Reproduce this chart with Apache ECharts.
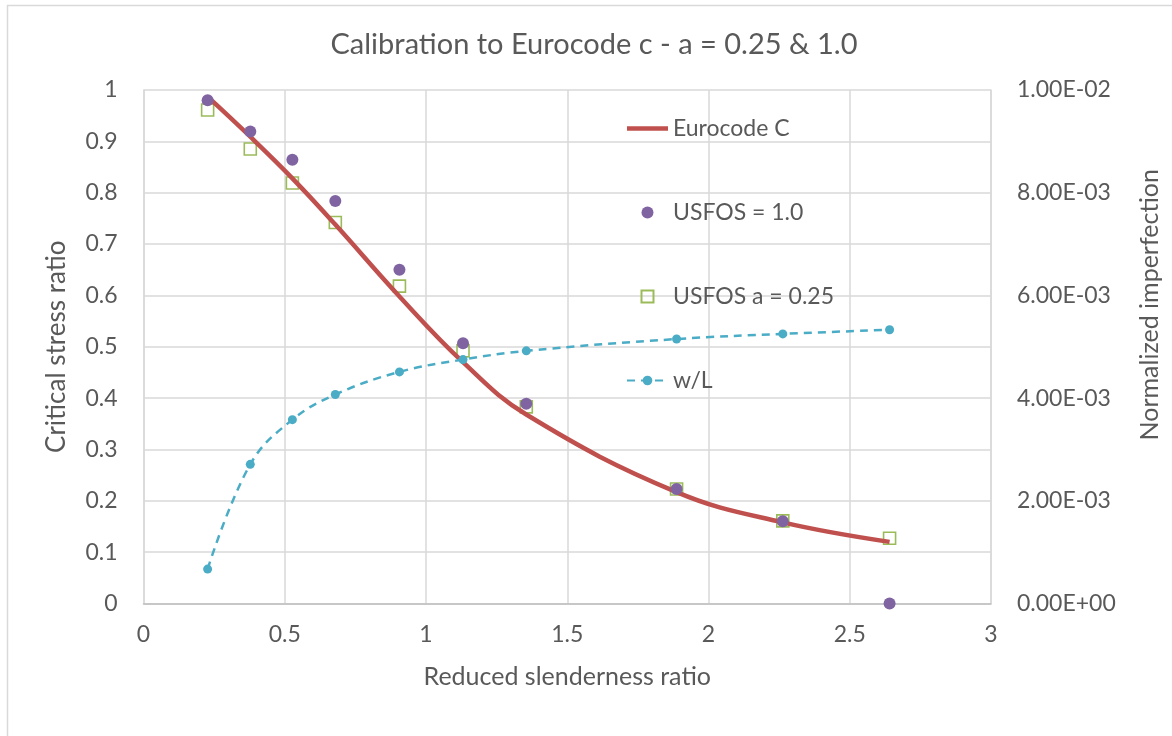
<!DOCTYPE html>
<html>
<head>
<meta charset="utf-8">
<title>Calibration to Eurocode c</title>
<script src="https://cdn.jsdelivr.net/npm/echarts@6/dist/echarts.min.js"></script>
<style>
  html, body { margin: 0; padding: 0; background: #ffffff; }
  #chart { width: 1172px; height: 736px; }
</style>
</head>
<body>
<div id="chart"></div>
<script>
// Reduced slenderness ratio for each analysed column
const slenderness = [0.227, 0.378, 0.527, 0.679, 0.906, 1.131, 1.355, 1.887, 2.263, 2.641];
// Eurocode buckling curve c (critical stress ratio)
const eurocodeC = [0.987, 0.909, 0.828, 0.738, 0.598, 0.470, 0.368, 0.217, 0.158, 0.120];
// USFOS results, imperfection factor 1.0
const usfos10 = [0.980, 0.919, 0.864, 0.784, 0.650, 0.507, 0.389, 0.223, 0.160, 0.000];
// USFOS results, a = 0.25
const usfos025 = [0.961, 0.885, 0.819, 0.742, 0.618, 0.492, 0.383, 0.223, 0.161, 0.127];
// Normalized imperfection w/L (right axis)
const wOverL = [0.00067, 0.00271, 0.00358, 0.00407, 0.00451, 0.00475, 0.00492, 0.00515, 0.00525, 0.00533];

const seriesNames = ['Eurocode C', 'USFOS = 1.0', 'USFOS a = 0.25', 'w/L'];

const pairs = ys => slenderness.map((x, i) => [x, ys[i]]);

// Scientific labels like 2.00E-03
function sciLabel(v) {
  if (v === 0) return '0.00E+00';
  const e = Math.floor(Math.log10(v) + 1e-9);
  const m = v / Math.pow(10, e);
  return m.toFixed(2) + 'E' + (e < 0 ? '-' : '+') + String(Math.abs(e)).padStart(2, '0');
}

const textColor = '#595959';
const fontFamily = 'Lato, "Open Sans", sans-serif';
const gridColor = '#d9d9d9';

const chart = echarts.init(document.getElementById('chart'), null, { renderer: 'canvas' });

chart.setOption({
  animation: false,
  backgroundColor: '#ffffff',
  textStyle: { fontFamily: fontFamily, color: textColor },
  title: {
    text: 'Calibration to Eurocode c - a = 0.25 & 1.0',
    left: 589,
    textAlign: 'center',
    top: 25,
    textStyle: { fontFamily: fontFamily, fontSize: 29, fontWeight: 'normal', color: textColor }
  },
  graphic: [{
    type: 'rect',
    shape: { x: 7.5, y: 5.5, width: 1300, height: 900 },
    style: { fill: null, stroke: '#d9d9d9', lineWidth: 1.5 },
    silent: true,
    z: -10
  }],
  legend: {
    data: [
      { name: seriesNames[0], icon: 'path://M0 0H40V4.5H0Z' },
      { name: seriesNames[1] },
      { name: seriesNames[2], icon: 'path://M0 0H12V12H0Z' },
      { name: seriesNames[3] }
    ],
    orient: 'vertical',
    left: 621,
    top: 112,
    itemWidth: 41,
    itemHeight: 12,
    itemGap: 61,
    symbolKeepAspect: true,
    textStyle: { fontFamily: fontFamily, fontSize: 23, color: textColor }
  },
  grid: { left: 143.5, right: 181, top: 90, bottom: 132.5, containLabel: false },
  xAxis: {
    type: 'value',
    min: 0, max: 3, interval: 0.5,
    name: 'Reduced slenderness ratio',
    nameLocation: 'middle',
    nameGap: 61,
    nameMoveOverlap: false,
    nameTextStyle: { fontFamily: fontFamily, fontSize: 25, color: textColor },
    axisLine: { show: true, lineStyle: { color: '#bfbfbf', width: 1.5 } },
    axisTick: { show: false },
    axisLabel: { fontFamily: fontFamily, fontSize: 23, color: textColor, margin: 20 },
    splitLine: { show: true, lineStyle: { color: gridColor, width: 1.5 } }
  },
  yAxis: [{
    type: 'value',
    min: 0, max: 1, interval: 0.1,
    name: 'Critical stress ratio',
    nameLocation: 'middle',
    nameGap: 74,
    nameMoveOverlap: false,
    nameTextStyle: { fontFamily: fontFamily, fontSize: 26, color: textColor },
    axisLine: { show: true, lineStyle: { color: gridColor, width: 1.5 } },
    axisTick: { show: false },
    axisLabel: { fontFamily: fontFamily, fontSize: 23, color: textColor, margin: 26 },
    splitLine: { show: true, lineStyle: { color: gridColor, width: 1.5 } }
  }, {
    type: 'value',
    position: 'right',
    min: 0, max: 0.01, interval: 0.002,
    name: 'Normalized imperfection',
    nameLocation: 'middle',
    nameGap: 146,
    nameRotate: 90,
    nameMoveOverlap: false,
    nameTextStyle: { fontFamily: fontFamily, fontSize: 25, color: textColor, padding: [0, 0, 0, 84] },
    axisLine: { show: true, lineStyle: { color: gridColor, width: 1.5 } },
    axisTick: { show: false },
    axisLabel: { fontFamily: fontFamily, fontSize: 23, color: textColor, margin: 26, formatter: sciLabel },
    splitLine: { show: false }
  }],
  series: [{
    name: seriesNames[0],
    type: 'line',
    data: pairs(eurocodeC),
    smooth: 0.4,
    symbol: 'none',
    lineStyle: { color: '#C0504D', width: 4.5 },
    itemStyle: { color: '#C0504D' },
    z: 3
  }, {
    name: seriesNames[1],
    type: 'scatter',
    data: pairs(usfos10),
    symbol: 'circle',
    symbolSize: 12,
    itemStyle: { color: '#8064A2', opacity: 1 },
    z: 4
  }, {
    name: seriesNames[2],
    type: 'scatter',
    data: pairs(usfos025),
    symbol: 'rect',
    symbolSize: 12,
    itemStyle: { color: 'rgba(255,255,255,0)', borderColor: '#9BBB59', borderWidth: 1.6, opacity: 1 },
    z: 2
  }, {
    name: seriesNames[3],
    type: 'line',
    yAxisIndex: 1,
    data: pairs(wOverL),
    smooth: 0.4,
    symbol: 'circle',
    symbolSize: 9,
    showAllSymbol: true,
    lineStyle: { color: '#4BACC6', width: 2.5, type: [8, 6] },
    itemStyle: { color: '#4BACC6' },
    z: 5
  }]
});
</script>
</body>
</html>
